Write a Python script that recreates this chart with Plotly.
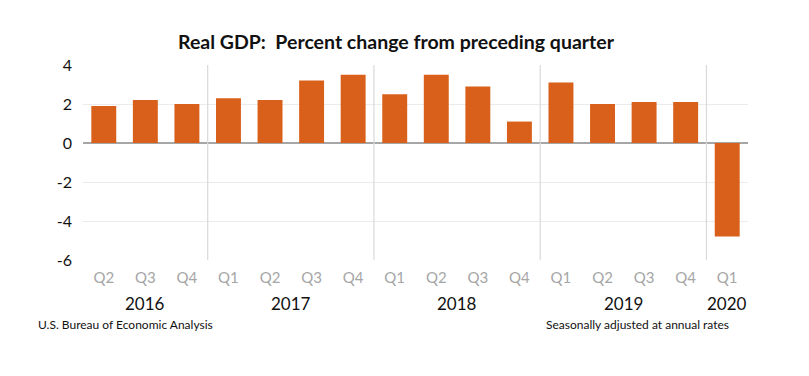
import plotly.graph_objects as go

quarters = ["Q2", "Q3", "Q4",
            "Q1", "Q2", "Q3", "Q4",
            "Q1", "Q2", "Q3", "Q4",
            "Q1", "Q2", "Q3", "Q4",
            "Q1"]
years = ["2016"] * 3 + ["2017"] * 4 + ["2018"] * 4 + ["2019"] * 4 + ["2020"]
values = [1.9, 2.2, 2.0,
          2.3, 2.2, 3.2, 3.5,
          2.5, 3.5, 2.9, 1.1,
          3.1, 2.0, 2.1, 2.1,
          -4.8]
year_labels = ["2016", "2017", "2018", "2019", "2020"]
y_ticks = [4, 2, 0, -2, -4, -6]

cats = [f"{y} {q}" for y, q in zip(years, quarters)]
FONT = "Lato"
ORANGE = "#D9601A"

fig = go.Figure()
fig.add_trace(go.Bar(x=list(range(len(cats))), y=values, marker_color=ORANGE,
                     marker_line_width=0, width=0.6,
                     hovertext=cats, hoverinfo="text+y"))

annotations = []
shapes = []
for yl in year_labels:
    idx = [i for i, y in enumerate(years) if y == yl]
    mid = (idx[0] + idx[-1]) / 2
    annotations.append(dict(x=mid, y=0, xref="x", yref="paper", yshift=-31,
                            text=yl, showarrow=False, yanchor="top",
                            font=dict(family=FONT, size=17, color="#111111")))
    if idx[-1] < len(years) - 1:
        shapes.append(dict(type="line", xref="x", yref="y",
                           x0=idx[-1] + 0.5, x1=idx[-1] + 0.5,
                           y0=min(y_ticks), y1=max(y_ticks),
                           line=dict(color="#D9D9D9", width=1.2)))

W, H = 809, 376
L, R, T, B = 83, 61, 65, 116
pw, ph = W - L - R, H - T - B

footnotes = [("U.S. Bureau of Economic Analysis", 36, "left"),
             ("Seasonally adjusted at annual rates", 731, "right")]
for text, px, anchor in footnotes:
    annotations.append(dict(x=(px - L) / pw, y=(H - B - 324) / ph, xref="paper", yref="paper",
                            text=text, showarrow=False, xanchor=anchor, yanchor="middle",
                            font=dict(family=FONT, size=12, color="#111111")))

fig.update_layout(
    width=W, height=H,
    margin=dict(l=L, r=R, t=T, b=B),
    paper_bgcolor="white", plot_bgcolor="white",
    showlegend=False,
    title=dict(text="<b>Real GDP:  Percent change from preceding quarter</b>",
               x=396 / W, xanchor="center", y=1 - 42 / H, yanchor="middle",
               font=dict(family=FONT, size=19.5, color="#111111")),
    xaxis=dict(range=[-0.5, len(cats) - 0.5], tickmode="array",
               tickvals=list(range(len(cats))), ticktext=quarters,
               showgrid=False, zeroline=False, showline=False, ticks="",
               ticklabelstandoff=7,
               tickfont=dict(family=FONT, size=15, color="#A6A6A6")),
    yaxis=dict(range=[min(y_ticks), max(y_ticks)], tickmode="array",
               tickvals=y_ticks, ticktext=[str(t) for t in y_ticks],
               showgrid=True, gridcolor="#EBEBEB", gridwidth=1,
               zeroline=True, zerolinecolor="#A6A6A6", zerolinewidth=1.5,
               showline=False, ticks="", ticklabelstandoff=10,
               tickfont=dict(family=FONT, size=16, color="#111111")),
    annotations=annotations,
    shapes=shapes,
    bargap=0.4,
)

fig.write_html("out.html", config={"displayModeBar": False},
               post_script="document.body.style.margin='0';document.body.style.padding='0';")
